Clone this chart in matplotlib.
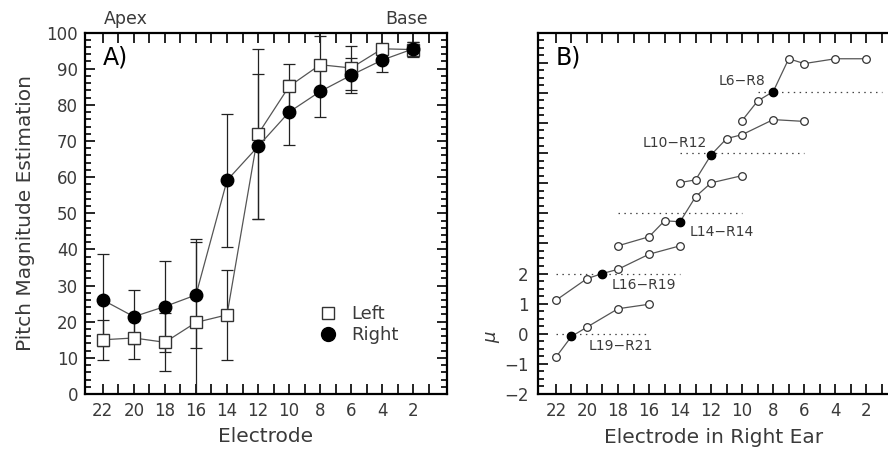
import numpy as np
import matplotlib
matplotlib.use('Agg')
import matplotlib.pyplot as plt
from matplotlib.lines import Line2D
from matplotlib.ticker import MultipleLocator, FixedLocator

# ---- panel A : pitch magnitude estimation ----
electrodes = [22, 20, 18, 16, 14, 12, 10, 8, 6, 4, 2]
left_mean = [15.0, 15.5, 14.3, 19.8, 21.9, 71.9, 85.1, 91.1, 90.2, 95.5, 95.3]
left_err = [5.5, 5.9, 8.0, 23.0, 12.4, 23.5, 6.3, 8.0, 6.2, 1.0, 2.0]
right_mean = [26.0, 21.4, 24.2, 27.4, 59.1, 68.5, 78.0, 83.7, 88.2, 92.4, 95.5]
right_err = [12.7, 7.5, 12.7, 14.6, 18.4, 20.0, 9.0, 7.2, 4.8, 3.4, 2.0]

# ---- panel B : mu vs electrode in right ear ----
b_x1 = [22, 21, 20, 18, 16]
b_y1 = [-0.78, -0.09, 0.22, 0.83, 0.98]
b_x2 = [22, 20, 19, 18, 16, 14]
b_y2 = [1.11, 1.83, 2.0, 2.14, 2.64, 2.92]
b_x3 = [18, 16, 15, 14, 13, 12, 10]
b_y3 = [2.92, 3.22, 3.75, 3.72, 4.55, 5.01, 5.25]
b_x4 = [14, 13, 12, 11, 10, 8, 6]
b_y4 = [5.02, 5.11, 5.94, 6.48, 6.61, 7.11, 7.05]
b_x5 = [10, 9, 8, 7, 6, 4, 2]
b_y5 = [7.08, 7.73, 8.04, 9.13, 8.97, 9.13, 9.13]
match_x = [21, 19, 14, 12, 8]          # matched (filled) electrode
match_y = [-0.09, 2.0, 3.72, 5.94, 8.04]
pair_names = ['L19-R21', 'L16-R19', 'L14-R14', 'L10-R12', 'L6-R8']
ref_level = [0, 2, 4, 6, 8.04]
ref_from = [22, 22, 18, 14, 9]
ref_to = [16, 14, 10, 6, 1]

txt = '#3a3a3a'
line_c = '#555555'
fs = 12

fig = plt.figure(figsize=(8.88, 4.49), dpi=100)
axA = fig.add_axes([0.0957, 0.1225, 0.4073, 0.805])
axB = fig.add_axes([0.6059, 0.1225, 0.4073, 0.805])

def style(ax):
    for s in ax.spines.values():
        s.set_linewidth(1.6)
        s.set_color('black')
    ax.tick_params(which='both', direction='in', top=True, right=True,
                   colors='black', labelcolor=txt, labelsize=fs, width=1.2)
    ax.tick_params(axis='x', which='major', length=7, pad=6)
    ax.tick_params(axis='y', which='major', length=7, pad=5)
    ax.tick_params(axis='y', which='minor', length=4)
    ax.xaxis.set_major_locator(FixedLocator(list(range(1, 23))))
    ax.set_xticklabels([str(i) if i % 2 == 0 else '' for i in range(1, 23)])
    ax.set_xlim(23.15, -0.15)

# panel A
style(axA)
axA.set_ylim(0, 100)
axA.yaxis.set_major_locator(MultipleLocator(10))
axA.yaxis.set_minor_locator(MultipleLocator(2))
axA.errorbar(electrodes, left_mean, yerr=left_err, fmt='none', ecolor='#222222',
             elinewidth=0.9, capsize=4, capthick=0.9)
axA.errorbar(electrodes, right_mean, yerr=right_err, fmt='none', ecolor='#222222',
             elinewidth=0.9, capsize=4, capthick=0.9)
axA.plot(electrodes, left_mean, color=line_c, lw=0.9, marker='s', ms=8.5,
         mfc='white', mec='#333333', mew=1.0)
axA.plot(electrodes, right_mean, color=line_c, lw=0.9, marker='o', ms=9,
         mfc='black', mec='black')
axA.set_ylabel('Pitch Magnitude Estimation', fontsize=14.5, color=txt, labelpad=8)
axA.set_xlabel('Electrode', fontsize=14.5, color=txt, labelpad=5)
axA.text(0.05, 0.93, 'A)', transform=axA.transAxes, fontsize=17, color='black',
         va='center', ha='left')
axA.text(0.113, 1.012, 'Apex', transform=axA.transAxes, fontsize=12.5, color=txt,
         ha='center', va='bottom')
axA.text(0.89, 1.012, 'Base', transform=axA.transAxes, fontsize=12.5, color=txt,
         ha='center', va='bottom')
handles = [Line2D([], [], ls='none', marker='s', ms=9, mfc='white', mec='#333333'),
           Line2D([], [], ls='none', marker='o', ms=10, mfc='black', mec='black')]
axA.legend(handles, ['Left', 'Right'], loc='upper left', bbox_to_anchor=(0.646, 0.245),
           frameon=False, fontsize=13, handlelength=1.0, handletextpad=0.8,
           labelspacing=0.15, borderpad=0, borderaxespad=0, labelcolor=txt)

# panel B
style(axB)
axB.set_ylim(-2, 10)
axB.yaxis.set_major_locator(MultipleLocator(1))
axB.yaxis.set_minor_locator(MultipleLocator(0.25))
axB.set_yticklabels(['' if (t < -2 or t > 2) else str(int(t)).replace('-', '\u2212')
                     for t in axB.get_yticks()])
axB.tick_params(axis='y', which='major', pad=7)
for lvl, x0, x1 in zip(ref_level, ref_from, ref_to):
    axB.plot([x0, x1], [lvl, lvl], ls=(0, (1.2, 3.5)), color='#444444', lw=0.9)
for xs, ys in [(b_x1, b_y1), (b_x2, b_y2), (b_x3, b_y3), (b_x4, b_y4), (b_x5, b_y5)]:
    axB.plot(xs, ys, color=line_c, lw=0.9, marker='o', ms=5.5, mfc='white',
             mec='#333333', mew=0.9)
axB.plot(match_x, match_y, ls='none', marker='o', ms=6, mfc='black', mec='black')
label_pos = [(19.9, -0.39), (18.4, 1.61), (13.4, 3.39), (16.4, 6.33), (11.5, 8.39)]
for name, (lx, ly) in zip(pair_names, label_pos):
    axB.text(lx, ly, name.replace('-', '\u2212'), fontsize=10, color=txt,
             ha='left', va='center')
axB.text(0.05, 0.93, 'B)', transform=axB.transAxes, fontsize=17, color='black',
         va='center', ha='left')
axB.set_ylabel('$\\mu$', fontsize=13, color=txt)
axB.yaxis.set_label_coords(-0.1, 0.16)
axB.set_xlabel('Electrode in Right Ear', fontsize=14.5, color=txt)
axB.xaxis.set_label_coords(0.485, -0.095)

fig.savefig('out.png', dpi=100)
